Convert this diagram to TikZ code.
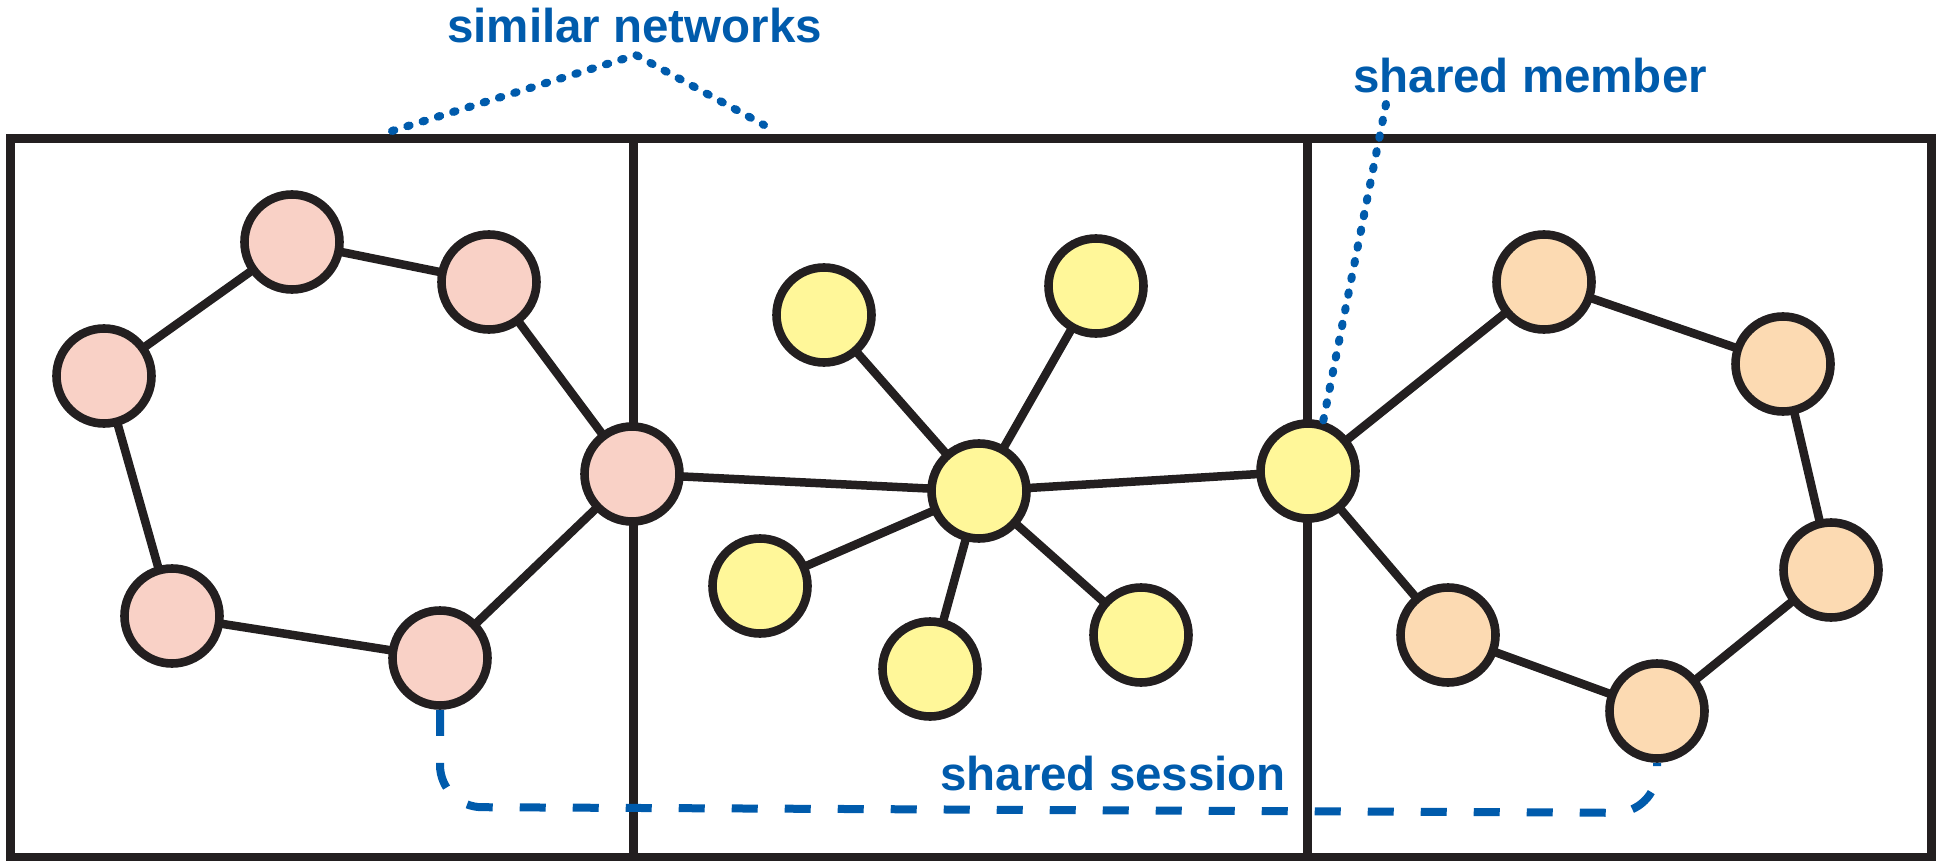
\documentclass[tikz,border=0pt]{standalone}
\usepackage{fontspec}
\setmainfont{Liberation Sans}
\usetikzlibrary{calc}
\pgfdeclarelayer{background}
\pgfsetlayers{background,main}
\definecolor{ink}{HTML}{231F20}
\definecolor{noteblue}{HTML}{005BAC}
\definecolor{pinkfill}{HTML}{F9D1C6}
\definecolor{yellowfill}{HTML}{FFF799}
\definecolor{orangefill}{HTML}{FCDAB2}
\begin{document}
\begin{tikzpicture}[x=1pt,y=-1pt,
  member/.style={circle, draw=ink, line width=8.6pt, minimum size=95pt, inner sep=0pt},
  pinknode/.style={member, fill=pinkfill},
  yellownode/.style={member, fill=yellowfill},
  orangenode/.style={member, fill=orangefill},
  link/.style={draw=ink, line width=8.5pt},
  panel/.style={draw=ink, line width=9pt},
  note/.style={text=noteblue, font=\bfseries\fontsize{47.5}{50}\selectfont, inner sep=0pt, anchor=base west},
  dotline/.style={draw=noteblue, line width=8pt, line cap=round, dash pattern=on 2.5pt off 13.5pt},
  dashline/.style={draw=noteblue, line width=8pt, dash pattern=on 26pt off 27pt},
]
\useasboundingbox (0,0) rectangle (1940,861);

% network members
\node[pinknode] (P1) at (292,242) {};
\node[pinknode] (P2) at (489,282) {};
\node[pinknode] (P3) at (104,376) {};
\node[pinknode] (P4) at (632,474) {};
\node[pinknode] (P5) at (172,616) {};
\node[pinknode] (P6) at (440,658) {};

\node[yellownode] (Yc) at (979,491) {};
\node[yellownode] (Y1) at (824,315) {};
\node[yellownode] (Y2) at (1096,286) {};
\node[yellownode] (Y3) at (760,586) {};
\node[yellownode] (Y4) at (930,669) {};
\node[yellownode] (Y5) at (1141,635) {};
\node[yellownode] (Yr) at (1308,471) {};

\node[orangenode] (O1) at (1544,282) {};
\node[orangenode] (O2) at (1783,364) {};
\node[orangenode] (O3) at (1831,570) {};
\node[orangenode] (O4) at (1657,711) {};
\node[orangenode] (O5) at (1448,635) {};

\begin{pgfonlayer}{background}
  % three network panels
  \draw[panel] (10,139) rectangle (633,857);
  \draw[panel] (633,139) rectangle (1307,857);
  \draw[panel] (1307,139) rectangle (1931,857);
  % ring on the left
  \draw[link] (P1.center) -- (P2.center) -- (P4.center) -- (P6.center)
              -- (P5.center) -- (P3.center) -- cycle;
  % star in the middle
  \foreach \n in {Y1,Y2,Y3,Y4,Y5,P4,Yr} \draw[link] (Yc.center) -- (\n.center);
  % ring on the right
  \draw[link] (Yr.center) -- (O1.center) -- (O2.center) -- (O3.center)
              -- (O4.center) -- (O5.center) -- cycle;
\end{pgfonlayer}

% annotations
\node[note] (simlabel) at (447,43) {similar networks};
\node[note] (memlabel) at (1353,93) {shared member};
\node[note] (seslabel) at (940,790) {shared session};

\coordinate (simL) at (392,131);
\coordinate (simApex) at (636,55);
\coordinate (simR) at (764,125);
\draw[dotline] (simL) -- (simApex) -- (simR);

\coordinate (memTop) at (1386,104);
\draw[dotline] (memTop) -- (Yr.73);

\draw[dashline, rounded corners=42pt] (P6.south) -- (440,807) -- (1657,813) -- (O4.south);
\end{tikzpicture}
\end{document}
